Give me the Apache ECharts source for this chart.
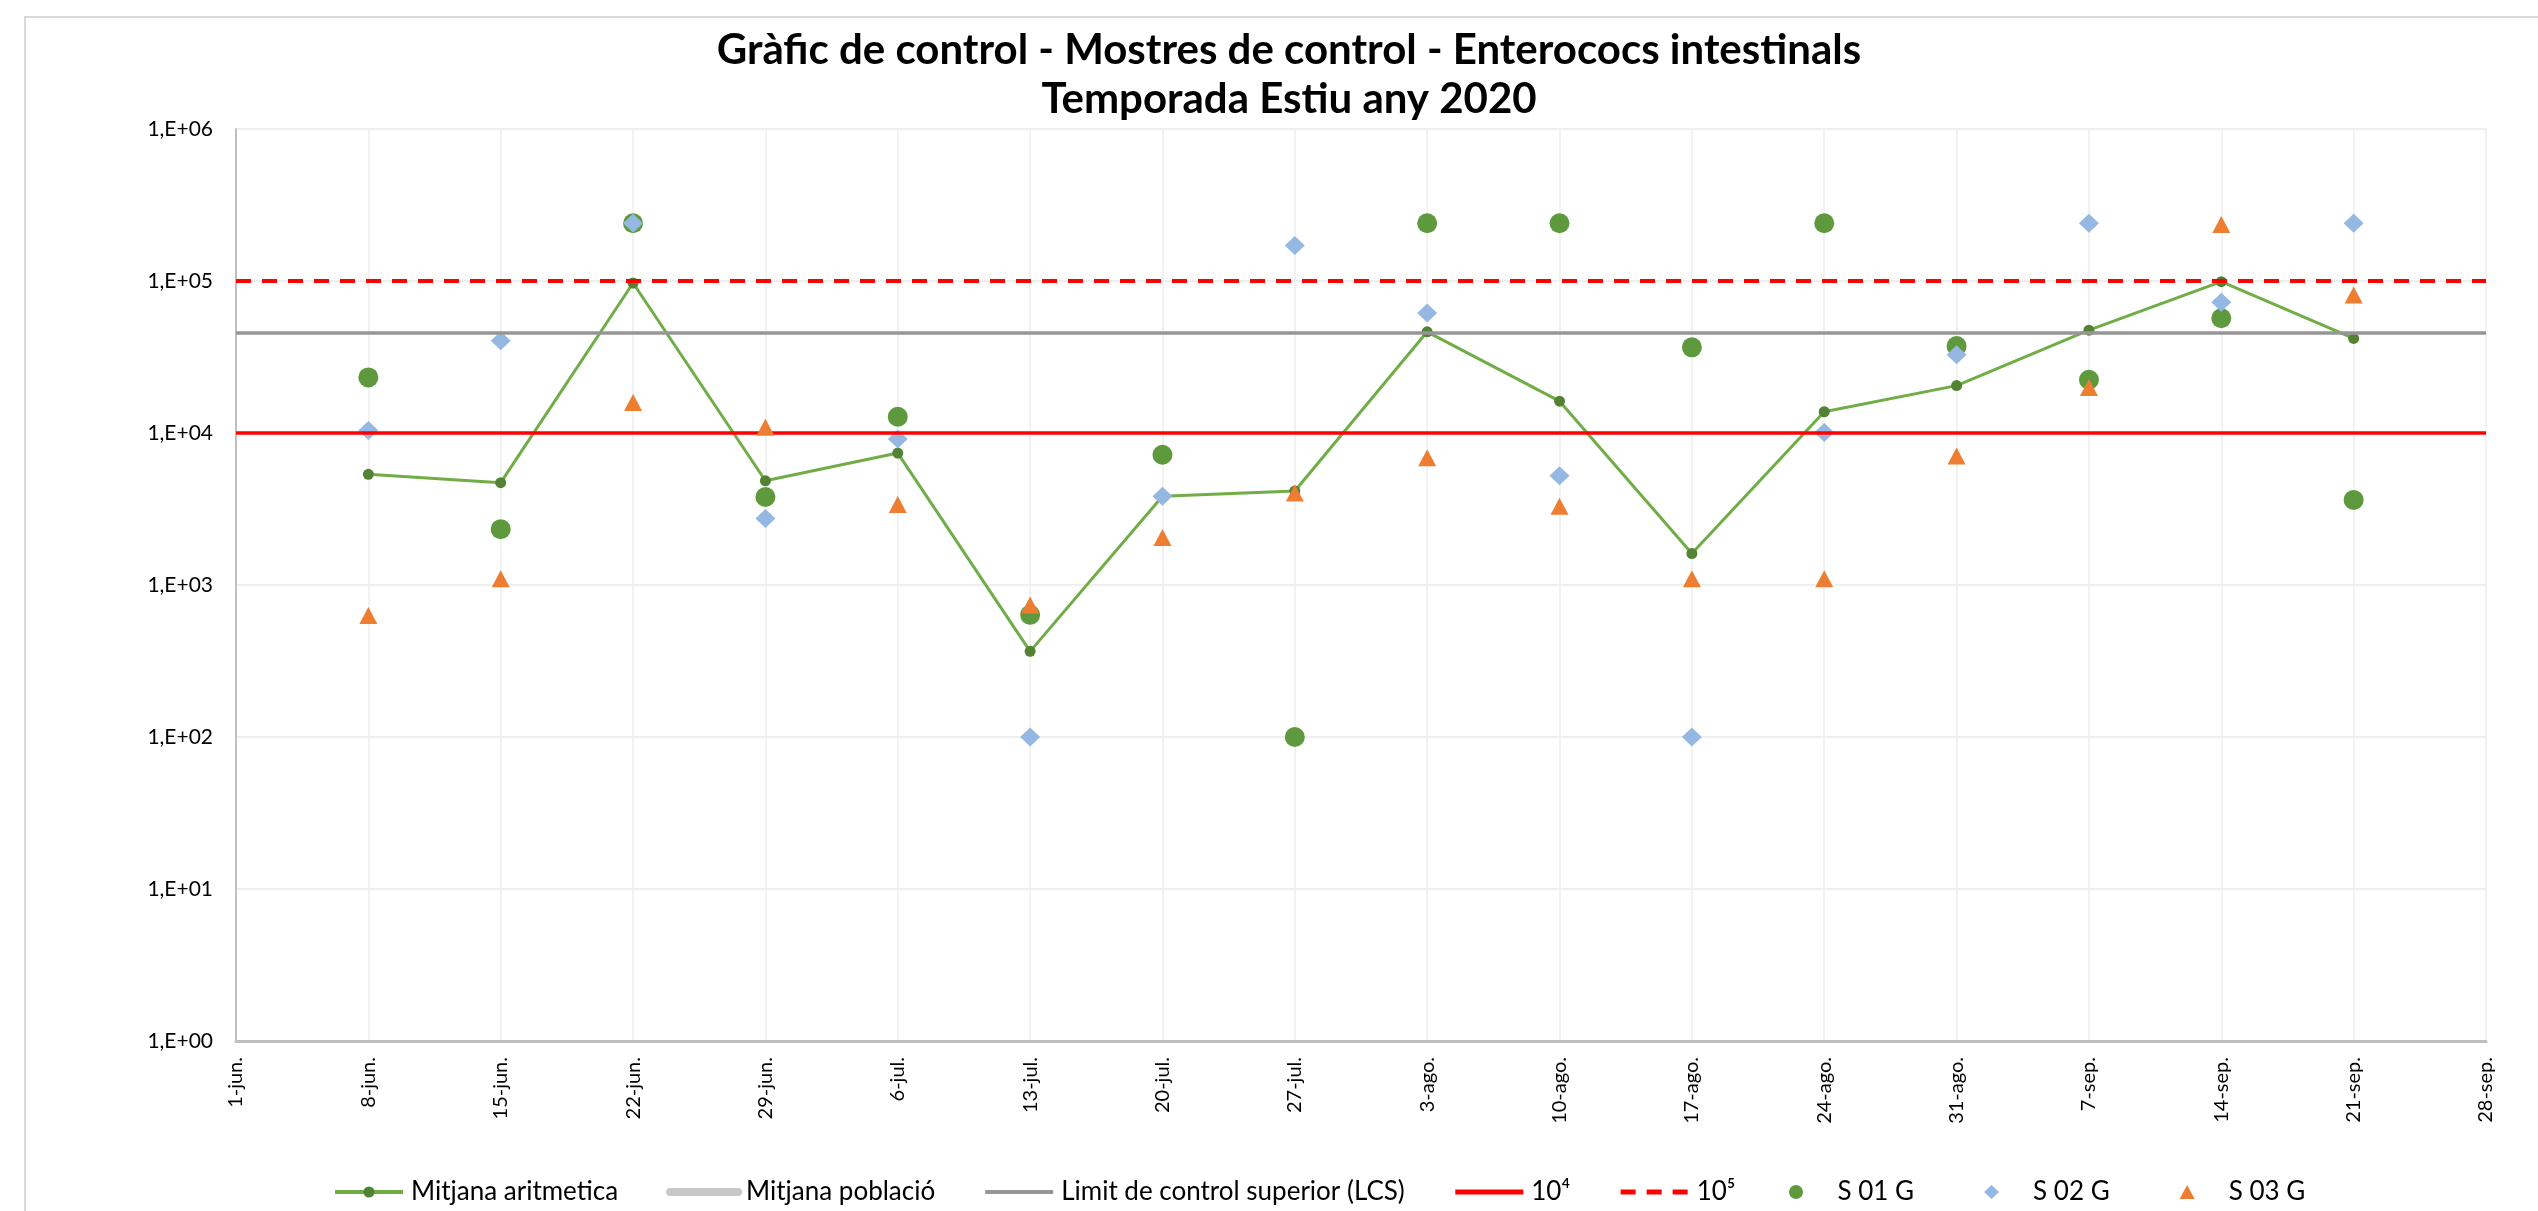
<!DOCTYPE html>
<html>
<head>
<meta charset="utf-8">
<script src="https://cdn.jsdelivr.net/npm/echarts@6/dist/echarts.min.js"></script>
<style>
	html, body { margin: 0; padding: 0; background: #fff; }
	#chart { width: 2538px; height: 1211px; }
</style>
</head>
<body>
<div id="chart"></div>
<script>
var xLabels = ['1-jun.', '8-jun.', '15-jun.', '22-jun.', '29-jun.', '6-jul.', '13-jul.', '20-jul.', '27-jul.',
	'3-ago.', '10-ago.', '17-ago.', '24-ago.', '31-ago.', '7-sep.', '14-sep.', '21-sep.', '28-sep.'];
var yTickLabels = ['1,E+00', '1,E+01', '1,E+02', '1,E+03', '1,E+04', '1,E+05', '1,E+06'];

// valors llegits del grafic ('-' = sense mostra)
var mitjanaAritmetica = ['-', 5350, 4710, 97000, 4850, 7380, 366, 3840, 4150, 46300, 16200, 1610, 13800, 20500, 47500, 99000, 41900, '-'];
var s01 = ['-', 23200, 2330, 240000, 3790, 12800, 636, 7190, 100, 240000, 240000, 36600, 240000, 37300, 22400, 56900, 3630, '-'];
var s02 = ['-', 10400, 40400, 240000, 2740, 9120, 100, 3840, 171000, 61700, 5240, 100, 10070, 32700, 240000, 72400, 240000, '-'];
var s03 = ['-', 630, 1100, 15850, 10900, 3380, 740, 2056, 4030, 6870, 3300, 1100, 1100, 7050, 19950, 235000, 81000, '-'];

var limitLCS = 45600;
var limit4 = 10000;
var limit5 = 100000;

var FONT = 'Lato';

//linia horitzontal de referencia (markLine sobre una serie buida)
function hLine(name, value, color, width, type) {
	return {
		name: name,
		type: 'line',
		data: [],
		symbol: 'none',
		lineStyle: { color: color, width: width, type: type },
		itemStyle: { color: 'rgba(0,0,0,0)' },
		markLine: {
			silent: true,
			symbol: ['none', 'none'],
			label: { show: false },
			lineStyle: { color: color, width: width, type: type },
			data: value == null ? [] : [{ yAxis: value }]
		}
	};
}

var myChart = echarts.init(document.getElementById('chart'), null, { renderer: 'canvas' });
myChart.setOption({
	animation: false,
	backgroundColor: '#fff',
	graphic: [
		{
			type: 'rect',
			shape: { x: 25, y: 17, width: 2700, height: 1400 },
			style: { fill: 'none', stroke: '#d9d9d9', lineWidth: 2 },
			z: -1
		},
		{
			type: 'text',
			x: 1289, y: 50,
			style: {
				text: 'Gràfic de control - Mostres de control - Enterococs intestinals',
				fill: '#000', font: 'bold 42px Lato', textAlign: 'center', textVerticalAlign: 'middle'
			}
		},
		{
			type: 'text',
			x: 1289, y: 99,
			style: {
				text: 'Temporada Estiu any 2020',
				fill: '#000', font: 'bold 42px Lato', textAlign: 'center', textVerticalAlign: 'middle'
			}
		}
	],
	grid: {
		left: 236,
		top: 129,
		right: 52,
		bottom: 170,
		containLabel: false
	},
	legend: [
		{
			top: 1174,
			left: 328,
			itemWidth: 68,
			itemHeight: 14,
			itemGap: 48,
			textStyle: { fontFamily: FONT, fontSize: 26, color: '#000', padding: [0, 0, 0, 3] },
			data: [
				{ name: 'Mitjana aritmetica', lineStyle: { width: 4 } },
				{ name: 'Mitjana població', lineStyle: { width: 8, cap: 'round' } },
				{ name: 'Limit de control superior (LCS)', lineStyle: { width: 4 } },
				{ name: '10⁴', lineStyle: { width: 5 } },
				{ name: '10⁵', lineStyle: { width: 5 } }
			]
		},
		{
			top: 1174,
			left: 1784,
			itemWidth: 15,
			itemHeight: 14,
			itemGap: 70,
			textStyle: { fontFamily: FONT, fontSize: 26, color: '#000', padding: [0, 0, 0, 29] },
			data: [
				{ name: 'S 01 G', icon: 'circle' },
				{ name: 'S 02 G', icon: 'diamond' },
				{ name: 'S 03 G', icon: 'triangle' }
			]
		}
	],
	xAxis: {
		type: 'category',
		boundaryGap: false,
		data: xLabels,
		axisTick: { show: false },
		axisLine: { show: true, lineStyle: { color: '#bfbfbf', width: 3 } },
		axisLabel: {
			rotate: 90,
			margin: 16,
			interval: 0,
			fontFamily: FONT,
			fontSize: 20,
			color: '#000'
		},
		splitLine: { show: true, lineStyle: { color: '#eeeeee', width: 1.5 } }
	},
	yAxis: {
		type: 'log',
		logBase: 10,
		min: 1,
		max: 1000000,
		axisTick: { show: false },
		axisLine: { show: true, lineStyle: { color: '#bfbfbf', width: 2 } },
		axisLabel: {
			margin: 23,
			fontFamily: FONT,
			fontSize: 21,
			color: '#000',
			formatter: function(v) {
				var e = Math.round(Math.log(v) / Math.LN10);
				return yTickLabels[e];
			}
		},
		splitLine: { show: true, lineStyle: { color: '#efefef', width: 2 } }
	},
	series: [
		{
			name: 'Mitjana aritmetica',
			type: 'line',
			data: mitjanaAritmetica,
			symbol: 'circle',
			symbolSize: 11,
			lineStyle: { color: '#70ad47', width: 3 },
			itemStyle: { color: '#548235' },
			z: 2
		},
		hLine('Mitjana població', null, '#c8c8c8', 7, 'solid'),
		hLine('Limit de control superior (LCS)', limitLCS, '#969696', 3.5, 'solid'),
		hLine('10⁴', limit4, '#ff0000', 3.5, 'solid'),
		hLine('10⁵', limit5, '#ff0000', 4, [15, 11]),
		{
			name: 'S 01 G',
			type: 'scatter',
			data: s01,
			symbol: 'circle',
			symbolSize: 20,
			itemStyle: { color: '#5e9a3d', opacity: 1 },
			z: 3
		},
		{
			name: 'S 02 G',
			type: 'scatter',
			data: s02,
			symbol: 'diamond',
			symbolSize: [20, 19],
			itemStyle: { color: '#95b8e2', opacity: 1 },
			z: 4
		},
		{
			name: 'S 03 G',
			type: 'scatter',
			data: s03,
			symbol: 'triangle',
			symbolSize: [18, 17],
			itemStyle: { color: '#ed7d31', opacity: 1 },
			z: 5
		}
	]
});
</script>
</body>
</html>
